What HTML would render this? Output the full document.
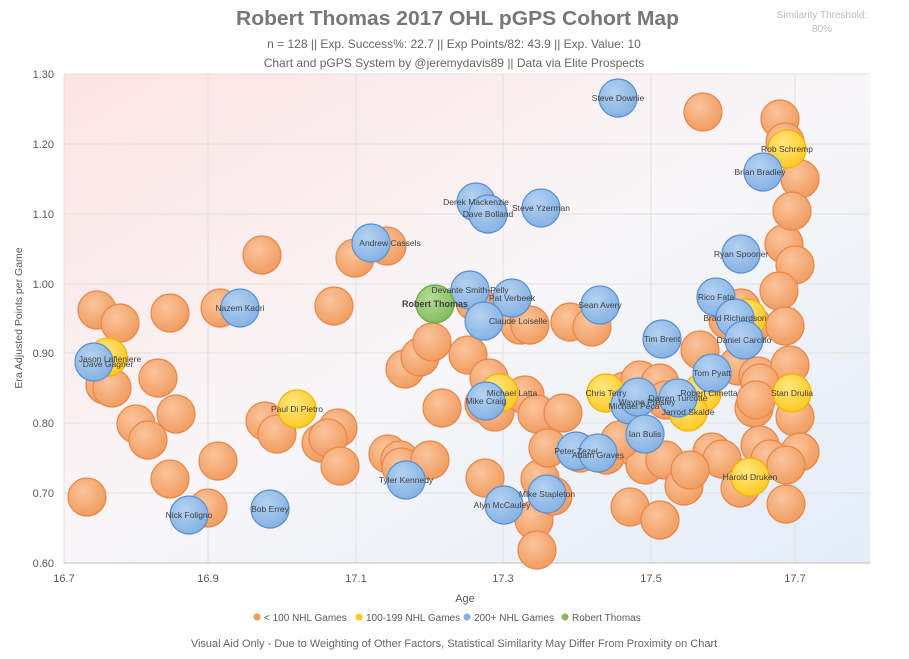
<!DOCTYPE html>
<html><head><meta charset="utf-8"><style>
body{margin:0;background:#fff;}
svg{display:block;font-family:"Liberation Sans",sans-serif;}
</style></head><body>
<svg width="909" height="659" xmlns="http://www.w3.org/2000/svg">
<defs>
<linearGradient id="bg" x1="0" y1="0" x2="1" y2="1">
<stop offset="0" stop-color="#fde3e3"/><stop offset="0.5" stop-color="#f8f6f8"/><stop offset="1" stop-color="#e3ecf7"/>
</linearGradient>
<radialGradient id="go" cx="0.4" cy="0.35" r="0.7"><stop offset="0" stop-color="#fbc49c"/><stop offset="1" stop-color="#f09a5c"/></radialGradient>
<radialGradient id="gb" cx="0.4" cy="0.35" r="0.7"><stop offset="0" stop-color="#b5d2f2"/><stop offset="1" stop-color="#82b0e2"/></radialGradient>
<radialGradient id="gy" cx="0.4" cy="0.35" r="0.7"><stop offset="0" stop-color="#ffe680"/><stop offset="1" stop-color="#ffc820"/></radialGradient>
<radialGradient id="gg" cx="0.4" cy="0.35" r="0.7"><stop offset="0" stop-color="#b5dc98"/><stop offset="1" stop-color="#80ba5c"/></radialGradient>
</defs>
<rect width="909" height="659" fill="#fff"/>
<rect x="64" y="74" width="806" height="489" fill="url(#bg)"/>
<g stroke="#e0e0e0" stroke-width="1">
<line x1="64" y1="144" x2="870" y2="144"/><line x1="64" y1="214" x2="870" y2="214"/><line x1="64" y1="284" x2="870" y2="284"/><line x1="64" y1="353" x2="870" y2="353"/><line x1="64" y1="423" x2="870" y2="423"/><line x1="64" y1="493" x2="870" y2="493"/><line x1="64" y1="74" x2="870" y2="74"/>
<line x1="208" y1="74" x2="208" y2="563"/><line x1="356" y1="74" x2="356" y2="563"/><line x1="503" y1="74" x2="503" y2="563"/><line x1="651" y1="74" x2="651" y2="563"/><line x1="795" y1="74" x2="795" y2="563"/><line x1="64" y1="74" x2="64" y2="563"/>
</g>
<line x1="64" y1="563" x2="870" y2="563" stroke="#bfbfbf"/>
<g font-size="11" fill="#595959" text-anchor="end">
<text x="54" y="78">1.30</text><text x="54" y="148">1.20</text><text x="54" y="218">1.10</text><text x="54" y="288">1.00</text><text x="54" y="357">0.90</text><text x="54" y="427">0.80</text><text x="54" y="497">0.70</text><text x="54" y="567">0.60</text>
</g>
<g font-size="11" fill="#595959" text-anchor="middle">
<text x="64" y="582">16.7</text><text x="208" y="582">16.9</text><text x="356" y="582">17.1</text><text x="503" y="582">17.3</text><text x="651" y="582">17.5</text><text x="795" y="582">17.7</text>
</g>
<text x="465" y="602" font-size="11" fill="#595959" text-anchor="middle">Age</text>
<text transform="translate(22,318) rotate(-90)" font-size="10.5" fill="#595959" text-anchor="middle">Era Adjusted Points per Game</text>
<text x="236" y="25" font-size="20" font-weight="bold" fill="#777" textLength="443" lengthAdjust="spacingAndGlyphs">Robert Thomas 2017 OHL pGPS Cohort Map</text>
<text x="454" y="48" font-size="12" fill="#666" text-anchor="middle">n = 128 || Exp. Success%: 22.7 || Exp Points/82: 43.9 || Exp. Value: 10</text>
<text x="454" y="67" font-size="12" fill="#666" text-anchor="middle">Chart and pGPS System by @jeremydavis89 || Data via Elite Prospects</text>
<text x="822" y="18" font-size="10" fill="#bbb" text-anchor="middle">Similarity Threshold:</text>
<text x="822" y="32" font-size="10" fill="#bbb" text-anchor="middle">80%</text>
<g stroke="#e8874a" stroke-width="1.2" fill="url(#go)">
<circle cx="87" cy="497" r="19"/><circle cx="97" cy="310" r="19"/><circle cx="120" cy="323" r="19"/><circle cx="105" cy="385" r="19"/><circle cx="112" cy="388" r="19"/><circle cx="136" cy="424" r="19"/><circle cx="148" cy="440" r="19"/><circle cx="158" cy="378" r="19"/><circle cx="170" cy="313" r="19"/><circle cx="176" cy="414" r="19"/><circle cx="170" cy="479" r="19"/><circle cx="218" cy="461" r="19"/><circle cx="220" cy="308" r="19"/><circle cx="208" cy="508" r="19"/><circle cx="262" cy="255" r="19"/><circle cx="265" cy="421" r="19"/><circle cx="277" cy="434" r="19"/><circle cx="334" cy="306" r="19"/><circle cx="321" cy="443" r="19"/><circle cx="338" cy="428" r="19"/><circle cx="328" cy="438" r="19"/><circle cx="340" cy="466" r="19"/><circle cx="355" cy="258" r="19"/><circle cx="387" cy="246" r="19"/><circle cx="388" cy="454" r="19"/><circle cx="400" cy="460" r="19"/><circle cx="405" cy="369" r="19"/><circle cx="401" cy="467" r="19"/><circle cx="430" cy="460" r="19"/><circle cx="420" cy="357" r="19"/><circle cx="432" cy="342" r="19"/><circle cx="442" cy="408" r="19"/><circle cx="468" cy="355" r="19"/><circle cx="475" cy="302" r="19"/><circle cx="485" cy="478" r="19"/><circle cx="484" cy="404" r="19"/><circle cx="495" cy="412" r="19"/><circle cx="489" cy="378" r="19"/><circle cx="520" cy="325" r="19"/><circle cx="530" cy="325" r="19"/><circle cx="525" cy="395" r="19"/><circle cx="537" cy="414" r="19"/><circle cx="540" cy="479" r="19"/><circle cx="534" cy="520" r="19"/><circle cx="537" cy="550" r="19"/><circle cx="548" cy="448" r="19"/><circle cx="563" cy="413" r="19"/><circle cx="570" cy="322" r="19"/><circle cx="592" cy="327" r="19"/><circle cx="553" cy="496" r="19"/><circle cx="580" cy="453" r="19"/><circle cx="606" cy="455" r="19"/><circle cx="625" cy="391" r="19"/><circle cx="630" cy="507" r="19"/><circle cx="640" cy="452" r="19"/><circle cx="645" cy="465" r="19"/><circle cx="660" cy="520" r="19"/><circle cx="665" cy="460" r="19"/><circle cx="684" cy="486" r="19"/><circle cx="700" cy="350" r="19"/><circle cx="703" cy="112" r="19"/><circle cx="712" cy="452" r="19"/><circle cx="722" cy="459" r="19"/><circle cx="728" cy="320" r="19"/><circle cx="752" cy="325" r="19"/><circle cx="741" cy="308" r="19"/><circle cx="738" cy="366" r="19"/><circle cx="758" cy="376" r="19"/><circle cx="754" cy="408" r="19"/><circle cx="760" cy="445" r="19"/><circle cx="770" cy="459" r="19"/><circle cx="780" cy="119" r="19"/><circle cx="785" cy="142" r="19"/><circle cx="800" cy="179" r="19"/><circle cx="784" cy="244" r="19"/><circle cx="792" cy="211" r="19"/><circle cx="795" cy="265" r="19"/><circle cx="779" cy="291" r="19"/><circle cx="785" cy="326" r="19"/><circle cx="790" cy="365" r="19"/><circle cx="795" cy="417" r="19"/><circle cx="800" cy="452" r="19"/><circle cx="786" cy="465" r="19"/><circle cx="786" cy="504" r="19"/><circle cx="740" cy="488" r="19"/><circle cx="760" cy="383" r="19"/><circle cx="640" cy="380" r="19"/><circle cx="660" cy="383" r="19"/><circle cx="666" cy="400" r="19"/><circle cx="756" cy="400" r="19"/><circle cx="620" cy="440" r="19"/><circle cx="690" cy="470" r="19"/>
</g>
<g stroke="#f0b400" stroke-width="1.2" fill="url(#gy)">
<circle cx="108" cy="357" r="19"/><circle cx="297" cy="409" r="19"/><circle cx="499" cy="393" r="19"/><circle cx="606" cy="393" r="19"/><circle cx="702" cy="393" r="19"/><circle cx="688" cy="412" r="19"/><circle cx="792" cy="393" r="19"/><circle cx="750" cy="477" r="19"/><circle cx="787" cy="149" r="19"/><circle cx="747" cy="318" r="19"/>
</g>
<g stroke="#5b8fd0" stroke-width="1.2" fill="url(#gb)">
<circle cx="618" cy="98" r="19"/><circle cx="763" cy="172" r="19"/><circle cx="476" cy="202" r="19"/><circle cx="488" cy="214" r="19"/><circle cx="541" cy="208" r="19"/><circle cx="371" cy="243" r="19"/><circle cx="741" cy="254" r="19"/><circle cx="470" cy="290" r="19"/><circle cx="512" cy="298" r="19"/><circle cx="484" cy="321" r="19"/><circle cx="600" cy="305" r="19"/><circle cx="240" cy="308" r="19"/><circle cx="716" cy="297" r="19"/><circle cx="735" cy="318" r="19"/><circle cx="744" cy="340" r="19"/><circle cx="662" cy="339" r="19"/><circle cx="712" cy="373" r="19"/><circle cx="94" cy="362" r="19"/><circle cx="486" cy="401" r="19"/><circle cx="630" cy="405" r="19"/><circle cx="638" cy="397" r="19"/><circle cx="678" cy="398" r="19"/><circle cx="645" cy="434" r="19"/><circle cx="576" cy="451" r="19"/><circle cx="598" cy="453" r="19"/><circle cx="406" cy="480" r="19"/><circle cx="547" cy="494" r="19"/><circle cx="504" cy="505" r="19"/><circle cx="189" cy="515" r="19"/><circle cx="270" cy="509" r="19"/>
</g>
<circle cx="435" cy="304" r="19" fill="url(#gg)" stroke="#6fa84c" stroke-width="1.2"/>
<g font-size="8.5" fill="#404040" text-anchor="middle">
<text x="618" y="101">Steve Downie</text><text x="787" y="152">Rob Schremp</text><text x="760" y="175">Brian Bradley</text>
<text x="476" y="205">Derek Mackenzie</text><text x="488" y="217">Dave Bolland</text><text x="541" y="211">Steve Yzerman</text>
<text x="390" y="246">Andrew Cassels</text><text x="741" y="257">Ryan Spooner</text><text x="470" y="293">Devante Smith-Pelly</text>
<text x="512" y="301">Pat Verbeek</text><text x="518" y="324">Claude Loiselle</text><text x="600" y="308">Sean Avery</text>
<text x="240" y="311">Nazem Kadri</text><text x="716" y="300">Rico Fata</text><text x="735" y="321">Brad Richardson</text>
<text x="744" y="343">Daniel Carcillo</text><text x="662" y="342">Tim Brent</text><text x="712" y="376">Tom Pyatt</text>
<text x="110" y="362">Jason Lafleniere</text><text x="108" y="367">Dave Gagner</text><text x="486" y="404">Mike Craig</text>
<text x="512" y="396">Michael Latta</text><text x="606" y="396">Chris Terry</text><text x="647" y="405">Wayne Presley</text>
<text x="634" y="409">Michael Peca</text><text x="678" y="401">Darren Turcotte</text><text x="709" y="396">Robert Cimetta</text>
<text x="688" y="415">Jarrod Skalde</text><text x="792" y="396">Stan Drulia</text><text x="645" y="437">Ian Bulis</text>
<text x="576" y="454">Peter Zezel</text><text x="598" y="458">Adam Graves</text><text x="406" y="483">Tyler Kennedy</text>
<text x="750" y="480">Harold Druken</text><text x="547" y="497">Mike Stapleton</text><text x="502" y="508">Alyn McCauley</text>
<text x="189" y="518">Nick Foligno</text><text x="270" y="512">Bob Errey</text><text x="297" y="412">Paul Di Pietro</text>
</g>
<text x="435" y="307" font-size="9" font-weight="bold" fill="#404040" text-anchor="middle">Robert Thomas</text>
<g font-size="10" fill="#595959">
<circle cx="257" cy="617" r="3.5" fill="#f09a5c"/><text x="264" y="621">&lt; 100 NHL Games</text>
<circle cx="309" cy="617" r="3.5" fill="#ffc820" transform="translate(50,0)"/><text x="366" y="621">100-199 NHL Games</text>
<circle cx="467" cy="617" r="3.5" fill="#82b0e2"/><text x="474" y="621">200+ NHL Games</text>
<circle cx="565" cy="617" r="3.5" fill="#80ba5c"/><text x="572" y="621">Robert Thomas</text>
</g>
<text x="454" y="647" font-size="11" fill="#666" text-anchor="middle">Visual Aid Only - Due to Weighting of Other Factors, Statistical Similarity May Differ From Proximity on Chart</text>
</svg>
</body></html>
